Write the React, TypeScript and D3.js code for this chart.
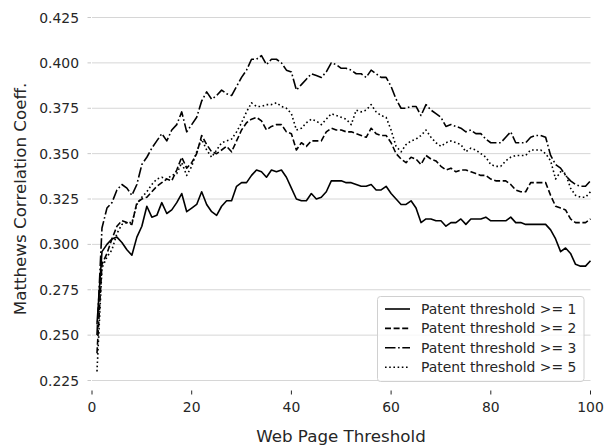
import * as d3 from 'd3'

// web page threshold 1..100
const thresholds = d3.range(1, 101)

const patent1 = [
  0.256, 0.296, 0.300, 0.303, 0.304, 0.301, 0.297, 0.294, 0.304, 0.310,
  0.321, 0.315, 0.316, 0.323, 0.317, 0.319, 0.323, 0.328, 0.318, 0.320,
  0.322, 0.329, 0.322, 0.318, 0.316, 0.321, 0.324, 0.324, 0.332, 0.334,
  0.334, 0.338, 0.341, 0.340, 0.337, 0.341, 0.340, 0.341, 0.337, 0.331,
  0.325, 0.324, 0.324, 0.328, 0.325, 0.326, 0.329, 0.335, 0.335, 0.335,
  0.334, 0.334, 0.333, 0.332, 0.332, 0.333, 0.330, 0.330, 0.332, 0.328,
  0.325, 0.322, 0.322, 0.324, 0.320, 0.312, 0.314, 0.314, 0.313, 0.313,
  0.310, 0.312, 0.312, 0.314, 0.311, 0.314, 0.314, 0.314, 0.315, 0.313,
  0.313, 0.313, 0.313, 0.315, 0.312, 0.312, 0.311, 0.311, 0.311, 0.311,
  0.311, 0.308, 0.303, 0.296, 0.298, 0.295, 0.289, 0.288, 0.288, 0.291,
]

const patent2 = [
  0.240, 0.289, 0.295, 0.303, 0.310, 0.313, 0.312, 0.311, 0.323, 0.325,
  0.326, 0.329, 0.332, 0.334, 0.336, 0.335, 0.341, 0.348, 0.342, 0.345,
  0.350, 0.360, 0.355, 0.351, 0.350, 0.352, 0.354, 0.351, 0.357, 0.363,
  0.367, 0.369, 0.370, 0.368, 0.363, 0.365, 0.366, 0.366, 0.362, 0.361,
  0.352, 0.356, 0.354, 0.357, 0.357, 0.357, 0.362, 0.364, 0.363, 0.363,
  0.362, 0.362, 0.361, 0.360, 0.359, 0.364, 0.361, 0.360, 0.360, 0.356,
  0.350, 0.347, 0.345, 0.348, 0.347, 0.344, 0.349, 0.347, 0.346, 0.343,
  0.341, 0.342, 0.340, 0.341, 0.341, 0.340, 0.339, 0.338, 0.338, 0.336,
  0.335, 0.335, 0.335, 0.333, 0.330, 0.329, 0.329, 0.334, 0.334, 0.334,
  0.334, 0.327, 0.321, 0.320, 0.319, 0.314, 0.312, 0.312, 0.312, 0.314,
]

const patent3 = [
  0.250, 0.309, 0.320, 0.323, 0.330, 0.333, 0.331, 0.327, 0.333, 0.344,
  0.348, 0.353, 0.357, 0.361, 0.357, 0.363, 0.366, 0.373, 0.362, 0.366,
  0.370, 0.379, 0.384, 0.380, 0.382, 0.385, 0.383, 0.382, 0.387, 0.392,
  0.396, 0.402, 0.402, 0.404, 0.399, 0.402, 0.402, 0.400, 0.396, 0.395,
  0.385, 0.388, 0.391, 0.394, 0.393, 0.392, 0.395, 0.400, 0.399, 0.397,
  0.397, 0.396, 0.394, 0.394, 0.392, 0.396, 0.394, 0.392, 0.392, 0.387,
  0.380, 0.375, 0.375, 0.376, 0.376, 0.371, 0.377, 0.374, 0.372, 0.370,
  0.365, 0.366, 0.365, 0.364, 0.362, 0.363, 0.361, 0.361, 0.358, 0.356,
  0.356, 0.356, 0.359, 0.362, 0.356, 0.356, 0.356, 0.359, 0.360, 0.360,
  0.359, 0.349, 0.344, 0.342, 0.338, 0.335, 0.333, 0.332, 0.332, 0.335,
]

const patent5 = [
  0.230, 0.287, 0.293, 0.297, 0.306, 0.311, 0.312, 0.312, 0.322, 0.326,
  0.329, 0.333, 0.336, 0.337, 0.336, 0.338, 0.339, 0.345, 0.338, 0.343,
  0.351, 0.358, 0.352, 0.348, 0.352, 0.356, 0.357, 0.358, 0.362, 0.367,
  0.373, 0.378, 0.376, 0.376, 0.377, 0.377, 0.378, 0.376, 0.375, 0.372,
  0.363, 0.364, 0.367, 0.369, 0.368, 0.366, 0.369, 0.372, 0.371, 0.370,
  0.369, 0.366, 0.374, 0.373, 0.374, 0.377, 0.373, 0.371, 0.370, 0.363,
  0.354, 0.351, 0.355, 0.357, 0.358, 0.360, 0.363, 0.359, 0.356, 0.354,
  0.356, 0.357, 0.356, 0.355, 0.351, 0.353, 0.352, 0.350, 0.348, 0.344,
  0.343, 0.343, 0.346, 0.348, 0.349, 0.349, 0.349, 0.352, 0.352, 0.352,
  0.350, 0.346, 0.336, 0.340, 0.339, 0.331, 0.327, 0.326, 0.326, 0.329,
]

const seriesNames = [
  'Patent threshold >= 1',
  'Patent threshold >= 2',
  'Patent threshold >= 3',
  'Patent threshold >= 5',
]
const seriesValues = [patent1, patent2, patent3, patent5]
const dashes = ['none', '6,2.6', '10.5,2.6,1.6,2.6', '1.6,2.6']

const yTicks = [0.225, 0.25, 0.275, 0.3, 0.325, 0.35, 0.375, 0.4, 0.425]
const xTicks = [0, 20, 40, 60, 80, 100]

const W = 604
const H = 446
const font = '"DejaVu Sans", sans-serif'
const ink = '#262626'

export default function App() {
  const x = d3.scaleLinear().domain([0, 100]).range([92, 590.5])
  const y = d3.scaleLinear().domain([0.225, 0.425]).range([380.5, 17.5])
  const line = d3
    .line<number>()
    .x((_, i) => x(thresholds[i]))
    .y(d => y(d))

  const legX = 377.5
  const legY = 296.5
  const rowH = 19.4

  return (
    <svg
      width={W}
      height={H}
      style={{ position: 'absolute', left: 0, top: 0, background: '#fff' }}
      fontFamily={font}
    >
      {/* grid + y ticks */}
      {yTicks.map(t => (
        <g key={t}>
          <line x1={x(0)} x2={x(100)} y1={y(t)} y2={y(t)} stroke="#d6d6d6" strokeWidth={1} />
          <line x1={87.5} x2={91} y1={y(t)} y2={y(t)} stroke="#c8c8c8" strokeWidth={1} />
          <text x={79} y={y(t)} dy="0.36em" textAnchor="end" fontSize={13.9} fill={ink}>
            {d3.format('.3f')(t)}
          </text>
        </g>
      ))}
      {/* x ticks */}
      {xTicks.map(t => (
        <g key={t}>
          <line x1={x(t)} x2={x(t)} y1={390.5} y2={394.5} stroke={ink} strokeWidth={1} />
          <text x={x(t)} y={412} textAnchor="middle" fontSize={13.9} fill={ink}>
            {t}
          </text>
        </g>
      ))}
      {/* lines */}
      {seriesValues.map((vals, i) => (
        <path
          key={i}
          d={line(vals) ?? ''}
          fill="none"
          stroke="#000"
          strokeWidth={1.6}
          strokeDasharray={dashes[i]}
          strokeLinejoin="round"
        />
      ))}
      {/* legend */}
      <rect
        x={legX}
        y={legY}
        width={206.5}
        height={85}
        rx={3}
        fill="#fff"
        fillOpacity={0.8}
        stroke="#d0d0d0"
      />
      {seriesNames.map((name, i) => {
        const cy = legY + 12.5 + i * rowH
        return (
          <g key={name}>
            <line
              x1={385}
              x2={410}
              y1={cy}
              y2={cy}
              stroke="#000"
              strokeWidth={1.6}
              strokeDasharray={dashes[i]}
            />
            <text x={421} y={cy} dy="0.36em" fontSize={13.9} fill={ink}>
              {name}
            </text>
          </g>
        )
      })}
      {/* axis titles */}
      <text x={341} y={442} textAnchor="middle" fontSize={16.7} fill={ink}>
        Web Page Threshold
      </text>
      <text
        transform={`translate(26,${(17.5 + 380.5) / 2}) rotate(-90)`}
        textAnchor="middle"
        fontSize={16.7}
        fill={ink}
      >
        Matthews Correlation Coeff.
      </text>
    </svg>
  )
}
